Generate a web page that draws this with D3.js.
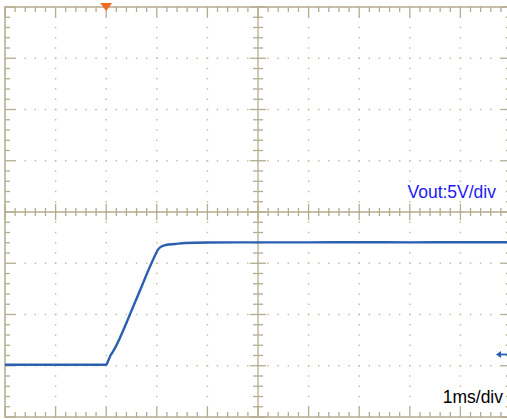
<!DOCTYPE html>
<html>
<head>
<meta charset="utf-8">
<script src="https://cdn.jsdelivr.net/npm/d3@7"></script>
<style>
  html, body { margin: 0; padding: 0; background: #fff; }
  svg { display: block; }
</style>
</head>
<body>
<svg id="scope"></svg>
<script>
// time in ms (trigger = 0), voltage in V on the 5V/div screen
const timeDomain = [-2, 8];
const voltDomain = [-20, 20];
const traceTime = [-2, 0, 0.04, 0.09, 0.13, 0.17, 0.57, 0.96, 1.02, 1.08, 1.18, 1.36, 1.56, 2, 3, 4, 5, 6, 7, 8];
const traceVolt = [-14.9, -14.9, -14.5, -13.95, -13.65, -13.3, -8.8, -4.3, -3.7, -3.4, -3.22, -3.12, -3.02, -2.98, -2.96, -2.96, -2.95, -2.96, -2.95, -2.95];
const triggerTime = 0;
const groundVolt = -13.9;
const labels = { channel: 'Vout:5V/div', timebase: '1ms/div' };

const W = 507, H = 419;
const svg = d3.select('#scope').attr('width', W).attr('height', H)
  .style('font-family', 'Arial, "Liberation Sans", sans-serif');

const x = d3.scaleLinear().domain(timeDomain).range([5, 511]);
const y = d3.scaleLinear().domain(voltDomain).range([417, 7]);

const gridColor = '#b3ac8f';
const dotColor = '#c4bea6';

const majorX = d3.range(timeDomain[0], timeDomain[1] + 0.001, 1);
const majorY = d3.range(voltDomain[0], voltDomain[1] + 0.001, 5);
const minorX = d3.range(timeDomain[0], timeDomain[1] + 0.001, 0.2);
const minorY = d3.range(voltDomain[0], voltDomain[1] + 0.001, 1);
const centerT = 3, centerV = 0;

const grid = svg.append('g');

// dotted grid lines
const innerX = majorX.filter(d => d > timeDomain[0] && d < timeDomain[1] && d !== centerT);
const innerY = majorY.filter(d => d > voltDomain[0] && d < voltDomain[1] && d !== centerV);
innerX.forEach(t => {
  grid.selectAll(null).data(minorY.slice(1, -1)).enter().append('rect')
    .attr('x', x(t) - 0.75).attr('y', d => y(d) - 0.75)
    .attr('width', 1.5).attr('height', 1.5).attr('fill', dotColor);
});
innerY.forEach(v => {
  grid.selectAll(null).data(minorX.slice(1, -1)).enter().append('rect')
    .attr('x', d => x(d) - 0.75).attr('y', y(v) - 0.75)
    .attr('width', 1.5).attr('height', 1.5).attr('fill', dotColor);
});

// border
grid.append('rect')
  .attr('x', x(timeDomain[0])).attr('y', y(voltDomain[1]))
  .attr('width', x(timeDomain[1]) - x(timeDomain[0]))
  .attr('height', y(voltDomain[0]) - y(voltDomain[1]))
  .attr('fill', 'none').attr('stroke', gridColor).attr('stroke-width', 1.5);

const isMajorT = t => Math.abs(t - Math.round(t)) < 1e-6;
const isMajorV = v => Math.abs(v / 5 - Math.round(v / 5)) < 1e-6;

// edge ticks
const tickAttrs = sel => sel.attr('stroke', gridColor).attr('stroke-width', 1.3);
grid.selectAll(null).data(minorX).enter().append('line')
  .attr('x1', d => x(d)).attr('x2', d => x(d))
  .attr('y1', y(voltDomain[1])).attr('y2', d => y(voltDomain[1]) + (isMajorT(d) ? 10 : 5))
  .call(tickAttrs);
grid.selectAll(null).data(minorX).enter().append('line')
  .attr('x1', d => x(d)).attr('x2', d => x(d))
  .attr('y1', y(voltDomain[0])).attr('y2', d => y(voltDomain[0]) - (isMajorT(d) ? 10 : 5))
  .call(tickAttrs);
grid.selectAll(null).data(minorY).enter().append('line')
  .attr('y1', d => y(d)).attr('y2', d => y(d))
  .attr('x1', x(timeDomain[0])).attr('x2', d => x(timeDomain[0]) + (isMajorV(d) ? 10 : 5))
  .call(tickAttrs);
grid.selectAll(null).data(minorY).enter().append('line')
  .attr('y1', d => y(d)).attr('y2', d => y(d))
  .attr('x1', x(timeDomain[1])).attr('x2', d => x(timeDomain[1]) - (isMajorV(d) ? 10 : 5))
  .call(tickAttrs);

// center cross
grid.append('line')
  .attr('x1', x(timeDomain[0])).attr('x2', x(timeDomain[1]))
  .attr('y1', y(centerV)).attr('y2', y(centerV)).call(tickAttrs);
grid.append('line')
  .attr('x1', x(centerT)).attr('x2', x(centerT))
  .attr('y1', y(voltDomain[0])).attr('y2', y(voltDomain[1])).call(tickAttrs);
grid.selectAll(null).data(minorX).enter().append('line')
  .attr('x1', d => x(d)).attr('x2', d => x(d))
  .attr('y1', d => y(centerV) - (isMajorT(d) ? 8 : 4))
  .attr('y2', d => y(centerV) + (isMajorT(d) ? 8 : 4))
  .call(tickAttrs);
grid.selectAll(null).data(minorY).enter().append('line')
  .attr('y1', d => y(d)).attr('y2', d => y(d))
  .attr('x1', d => x(centerT) - (isMajorV(d) ? 8 : 5))
  .attr('x2', d => x(centerT) + (isMajorV(d) ? 8 : 5))
  .call(tickAttrs);

// trace
const trace = traceTime.map((t, i) => [t, traceVolt[i]]);
svg.append('path')
  .datum(trace)
  .attr('fill', 'none')
  .attr('stroke', '#2b5fb0')
  .attr('stroke-width', 2.4)
  .attr('stroke-linejoin', 'round')
  .attr('d', d3.line().x(d => x(d[0])).y(d => y(d[1])).curve(d3.curveMonotoneX));

// trigger marker
const tx = x(triggerTime);
svg.append('path')
  .attr('d', `M${tx - 6},3 L${tx + 6},3 L${tx},11 Z`)
  .attr('fill', '#f26a1f');

// ground marker
const gy = y(groundVolt);
svg.append('path')
  .attr('d', `M498,${gy} L507,${gy}`)
  .attr('stroke', '#2b5fb0').attr('stroke-width', 1.8);
svg.append('path')
  .attr('d', `M496,${gy} L501,${gy - 3.5} L501,${gy + 3.5} Z`)
  .attr('fill', '#2b5fb0');

// labels
svg.append('text')
  .attr('x', 496).attr('y', 198)
  .attr('text-anchor', 'end')
  .attr('font-size', 17.5)
  .attr('fill', '#1c1cf0')
  .text(labels.channel);
svg.append('text')
  .attr('x', 503).attr('y', 403)
  .attr('text-anchor', 'end')
  .attr('font-size', 17.5)
  .attr('fill', '#000')
  .text(labels.timebase);
</script>
</body>
</html>
